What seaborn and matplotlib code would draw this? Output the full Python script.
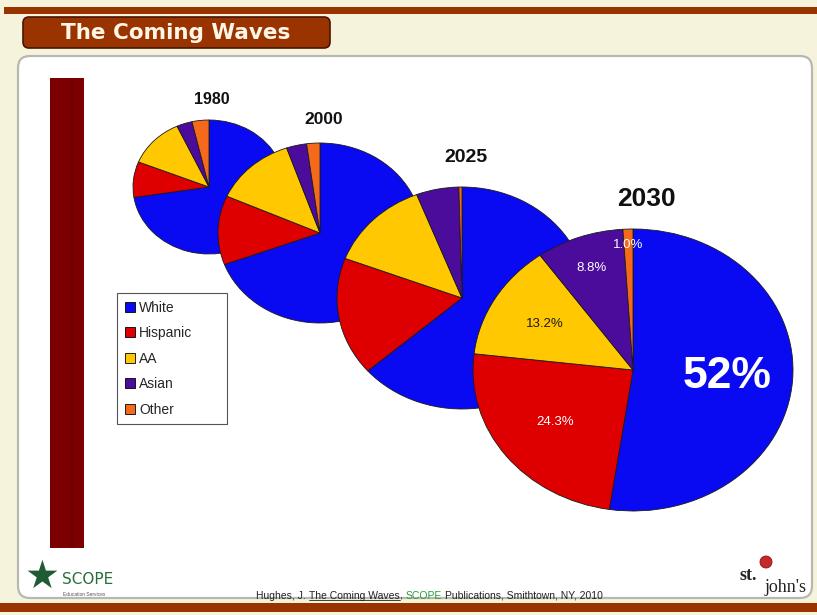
import numpy as np
import pandas as pd
import matplotlib
matplotlib.use("Agg")
import matplotlib.pyplot as plt
import seaborn as sns
from matplotlib.patches import FancyBboxPatch, Rectangle, Patch, Circle
from matplotlib.lines import Line2D

# ---------------- data ----------------
years = ["1980", "2000", "2025", "2030"]
groups = ["White", "Hispanic", "AA", "Asian", "Other"]
white = [72.5, 69.3, 63.6, 52.0]
hispanic = [8.6, 12.4, 17.2, 24.3]
aa = [12.0, 13.0, 13.3, 13.2]
asian = [3.3, 3.2, 5.5, 8.8]
other = [3.6, 2.1, 0.4, 1.0]
labels_2030 = ["52%", "24.3%", "13.2%", "8.8%", "1.0%"]
title = "The Coming Waves"
citation = ["Hughes, J.", "The Coming Waves", ",", "SCOPE", "Publications, Smithtown, NY, 2010"]

df = pd.DataFrame({"year": years, "White": white, "Hispanic": hispanic,
                   "AA": aa, "Asian": asian, "Other": other}).set_index("year")

# ---------------- style ----------------
sns.set_theme(style="white")
plt.rcParams["font.family"] = ["Liberation Sans", "DejaVu Sans"]
palette = sns.color_palette(["#0A0AF2", "#DE0000", "#FFC800", "#4B0C9C", "#F56A1A"])
BROWN = "#993300"

W, H = 817, 615
fig = plt.figure(figsize=(W / 100, H / 100), dpi=100)
fig.patch.set_facecolor("#F6F3DD")

bg = fig.add_axes([0, 0, 1, 1], zorder=0)
bg.set_xlim(0, W)
bg.set_ylim(H, 0)
bg.axis("off")

# slide decoration
bg.add_patch(Rectangle((4, 7), W - 4, 7, fc=BROWN, ec="none"))
bg.add_patch(FancyBboxPatch((18, 56), 794, 542, boxstyle="round,pad=0,rounding_size=12",
                            fc="white", ec="#b8b8b0", lw=1.6))
bg.add_patch(FancyBboxPatch((23, 17), 307, 31, boxstyle="round,pad=0,rounding_size=6",
                            fc=BROWN, ec="#4a1500", lw=1.2))
bg.text(176, 33, title, color="#FFF6E6", fontsize=15.5, fontweight="bold",
        family="DejaVu Sans", ha="center", va="center")
bg.add_patch(Rectangle((50, 78), 34, 470, fc="#7C0000", ec="none"))
bg.add_patch(Rectangle((71, 78), 2, 470, fc="#6A0000", ec="none"))
bg.add_patch(Rectangle((0, 603), W, 9, fc=BROWN, ec="none"))

# ---------------- pies ----------------
geom = {"1980": (209, 187, 76, 67), "2000": (320, 233, 102, 90),
        "2025": (462, 298, 125, 111), "2030": (633, 370, 160, 141)}
title_pos = {"1980": (212, 99, 11.5, "bold"), "2000": (324, 119, 12.5, "bold"),
             "2025": (466, 158, 14, "bold"), "2030": (646, 199, 19, "bold")}
m = 1.03
last_ax, last_wedges = None, None
for i, yr in enumerate(years):
    cx, cy, rx, ry = geom[yr]
    ax = fig.add_axes([(cx - rx * m) / W, 1 - (cy + ry * m) / H, 2 * rx * m / W, 2 * ry * m / H],
                      zorder=2 + i)
    wedges, _ = ax.pie(df.loc[yr].values, colors=palette, startangle=90, counterclock=False,
                       wedgeprops=dict(edgecolor="#1a1a1a", linewidth=0.6))
    ax.set_aspect("auto")
    ax.set_xlim(-m, m)
    ax.set_ylim(-m, m)
    ax.axis("off")
    tx, ty, fs, fw = title_pos[yr]
    fig.text(tx / W, 1 - ty / H, yr, fontsize=fs, fontweight=fw, color="#111111",
             ha="center", va="center", zorder=20)
    last_ax, last_wedges = ax, wedges

# 2030 slice labels
lab_r = [0.59, 0.61, 0.64, 0.77, 0.89]
lab_c = ["white", "white", "#1a1a1a", "white", "white"]
lab_fs = [32, 9.5, 9.5, 9.5, 9.5]
lab_fw = ["bold", "normal", "normal", "normal", "normal"]
for w, s, r, c, fs, fw in zip(last_wedges, labels_2030, lab_r, lab_c, lab_fs, lab_fw):
    ang = np.deg2rad((w.theta1 + w.theta2) / 2)
    last_ax.text(r * np.cos(ang), r * np.sin(ang), s, color=c, fontsize=fs, fontweight=fw,
                 ha="center", va="center", zorder=10)

# legend
handles = [Patch(fc=c, ec="black", lw=0.6, label=g) for c, g in zip(palette, groups)]
leg = fig.legend(handles=handles, loc="upper left",
                 bbox_to_anchor=(117 / W, 1 - 423 / H, 110 / W, 130 / H), mode="expand",
                 fontsize=10, labelspacing=0.83, handlelength=0.75, handleheight=0.75,
                 handletextpad=0.3, borderpad=0.55, borderaxespad=0, frameon=True,
                 fancybox=False, edgecolor="#555555", framealpha=1)
leg.get_frame().set_linewidth(0.8)
leg.set_zorder(30)

# footer citation
renderer = fig.canvas.get_renderer()
x = 256
gap = 3.0
fcolors = ["#222222", "#222222", "#222222", "#2E9A3A", "#222222"]
gaps = [gap, 0, gap, gap, 0]
for k, (s, c, g) in enumerate(zip(citation, fcolors, gaps)):
    t = fig.text(x / W, 1 - 596 / H, s, fontsize=7.5, color=c, ha="left", va="center", zorder=20)
    bb = t.get_window_extent(renderer)
    if k == 1:
        fig.add_artist(Line2D([bb.x0 / W, bb.x1 / W], [(bb.y0 + 1) / H, (bb.y0 + 1) / H],
                              transform=fig.transFigure, color=c, lw=0.6))
    x = bb.x1 + g

# logos (text approximations)
fig.text(42 / W, 1 - 577 / H, "\u2605", fontsize=28, color="#1F5C33", family="DejaVu Sans",
         ha="center", va="center", zorder=20)
fig.text(62 / W, 1 - 579 / H, "SCOPE", fontsize=11, color="#2A6E3C", family="DejaVu Sans",
         ha="left", va="center", zorder=20)
fig.text(63 / W, 1 - 594 / H, "Education Services", fontsize=3.5, color="#555555",
         ha="left", va="center", zorder=20)
bg.add_patch(Circle((766, 562), 6, fc="#C8282A", ec="#8a1010", lw=0.6))
fig.text(748 / W, 1 - 575 / H, "st.", fontsize=13, color="#222222", family="Liberation Serif",
         fontweight="bold", ha="center", va="center", zorder=20)
fig.text(786 / W, 1 - 587 / H, "john's", fontsize=13, color="#222222", family="Liberation Serif",
         ha="center", va="center", zorder=20)

fig.savefig("out.png", dpi=100, facecolor=fig.get_facecolor())
